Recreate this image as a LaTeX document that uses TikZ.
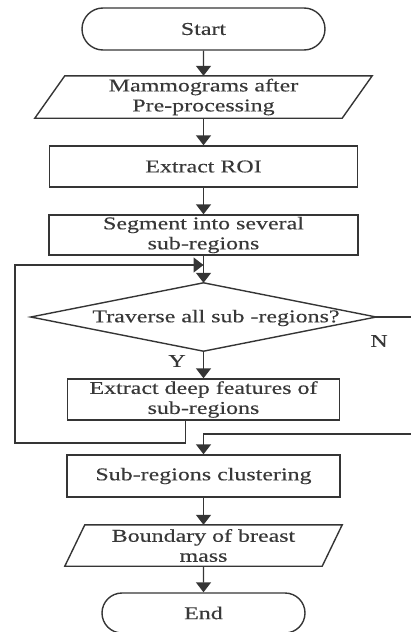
\documentclass[tikz,border=0pt]{standalone}
\usepackage{fontspec}
\setmainfont[FakeStretch=1.33,FakeBold=0.35]{Liberation Serif}
\usetikzlibrary{arrows.meta,shapes.misc}
\definecolor{linec}{HTML}{353535}
\definecolor{textc}{HTML}{383838}
\begin{document}
\begin{tikzpicture}[x=1pt,y=-1pt,
  line/.style={draw=linec, line width=1.4pt},
  arr/.style={line, -{Triangle[length=10pt,width=15pt]}},
  txt/.style={font=\fontsize{18}{20}\selectfont, text=textc, align=center, inner sep=0pt},
  box/.style={txt, rectangle, line, minimum height=41pt},
  term/.style={txt, rounded rectangle, line, minimum height=41pt},
  io/.style={txt, rectangle, minimum height=41pt},
  lbl/.style={font=\fontsize{18}{20}\selectfont, text=textc, inner sep=0pt}
]
\path[use as bounding box, clip] (0,0) rectangle (411,632);

\node[term, minimum width=243pt, minimum height=42pt] (start) at (203.5,29) {Start};
\node[io, minimum width=307pt, minimum height=42pt] (p1) at (203.5,97) {Mammograms after\\Pre-processing};
\draw[line] ([xshift=15pt]p1.north west) -- ([xshift=15pt]p1.north east)
  -- ([xshift=-15pt]p1.south east) -- ([xshift=-15pt]p1.south west) -- cycle;
\node[box, minimum width=308pt] (roi) at (203.5,166.5) {Extract ROI};
\node[box, minimum width=309pt, minimum height=40pt] (seg) at (203.5,235) {Segment into several\\sub-regions};
\coordinate (m) at (203.5,265);
\node[txt, rectangle, minimum width=345pt, minimum height=68pt] (d) at (203.5,317) {};
\draw[line] (d.west) -- (d.north) -- (d.east) -- (d.south) -- cycle;
\node[txt] (dt) at (216,318) {Traverse all sub -regions?};
\node[box, minimum width=272pt] (feat) at (203.5,399.5) {Extract deep features of\\sub-regions};
\node[box, minimum width=273pt, minimum height=42pt] (clus) at (203.5,476) {Sub-regions clustering};
\node[io, minimum width=257pt] (p2) at (203.5,545.5) {Boundary of breast\\mass};
\draw[line] ([xshift=10pt]p2.north west) -- ([xshift=10pt]p2.north east)
  -- ([xshift=-10pt]p2.south east) -- ([xshift=-10pt]p2.south west) -- cycle;
\node[term, minimum width=203pt, minimum height=40pt] (end) at (203.5,613) {End};

\node[lbl] (y) at (177,361) {Y};
\node[lbl] (n) at (379,341) {N};

\coordinate (lb) at (15,443);
\coordinate (nr) at (418,317);
\coordinate (nb) at (418,434);

\draw[arr] (start) -- (p1);
\draw[arr] (p1) -- (roi);
\draw[arr] (roi) -- (seg);
\draw[arr] (seg) -- (d.north);
\draw[arr] (d.south) -- (feat);
\draw[arr] ([xshift=-18pt]feat.south) |- (lb) |- (m);
\draw[arr] (d.east) -- (nr) |- (nb) -| (clus.north);
\draw[arr] (clus) -- (p2);
\draw[arr] (p2) -- (end);
\end{tikzpicture}
\end{document}
